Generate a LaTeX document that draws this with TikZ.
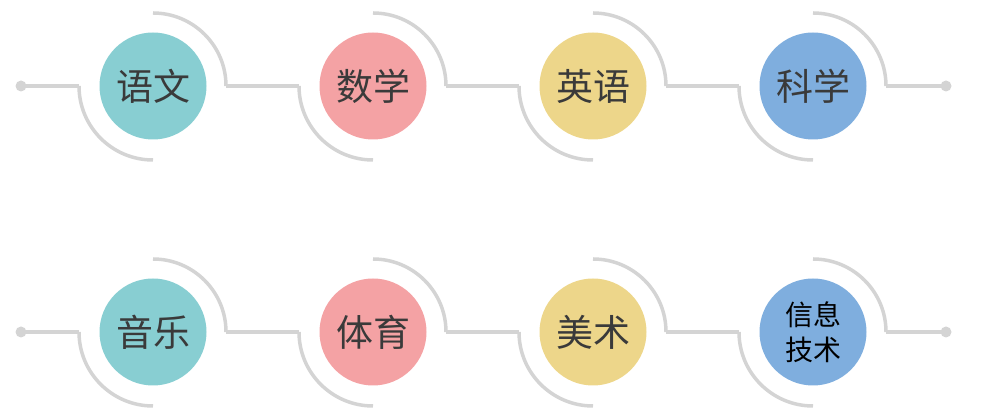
\documentclass[tikz,border=0pt]{standalone}
\usepackage{fontspec}
\newfontfamily\cjk{Noto Sans CJK SC}
\usetikzlibrary{calc}
\definecolor{linegray}{HTML}{D4D4D4}
\definecolor{cteal}{HTML}{88CED2}
\definecolor{cpink}{HTML}{F4A2A4}
\definecolor{cyellow}{HTML}{EDD68A}
\definecolor{cblue}{HTML}{7FAEDE}
\definecolor{txt}{HTML}{3A3A3A}
\begin{document}
\begin{tikzpicture}[x=1pt,y=1pt,
  ring/.style={draw=linegray, line width=3.5pt},
  subj/.style={circle, minimum size=107pt, inner sep=0pt, font=\cjk\fontsize{37}{44}\selectfont, text=txt},
  small/.style={font=\cjk\fontsize{28}{35}\selectfont, text=black, align=center}]
\useasboundingbox (0,0) rectangle (988,414);
% row 1
\node[subj, fill=cteal]   (c1) at (153,328) {语文};
\node[subj, fill=cpink]   (c2) at (373,328) {数学};
\node[subj, fill=cyellow] (c3) at (593,328) {英语};
\node[subj, fill=cblue]   (c4) at (813,328) {科学};
% row 2
\node[subj, fill=cteal]   (c5) at (153,82) {音乐};
\node[subj, fill=cpink]   (c6) at (373,82) {体育};
\node[subj, fill=cyellow] (c7) at (593,82) {美术};
\node[subj, fill=cblue, small] (c8) at (813,82) {信息\\技术};
% end dots
\coordinate (l1) at (21,328);
\coordinate (r1) at (946,328);
\coordinate (l2) at (21,82);
\coordinate (r2) at (946,82);
\foreach \d in {l1,r1,l2,r2} \fill[linegray] (\d) circle (5.5pt);
% arcs
\foreach \c in {c1,c2,c3,c4,c5,c6,c7,c8} {
  \draw[ring] ($(\c)+(0,73)$) arc[start angle=90, end angle=0, radius=73pt];
  \draw[ring] ($(\c)+(-74,0)$) arc[start angle=180, end angle=270, radius=74pt];
}
% connectors
\draw[ring] (l1) -- ($(c1)+(-74,0)$);
\draw[ring] ($(c1)+(73,0)$) -- ($(c2)+(-74,0)$);
\draw[ring] ($(c2)+(73,0)$) -- ($(c3)+(-74,0)$);
\draw[ring] ($(c3)+(73,0)$) -- ($(c4)+(-74,0)$);
\draw[ring] ($(c4)+(73,0)$) -- (r1);
\draw[ring] (l2) -- ($(c5)+(-74,0)$);
\draw[ring] ($(c5)+(73,0)$) -- ($(c6)+(-74,0)$);
\draw[ring] ($(c6)+(73,0)$) -- ($(c7)+(-74,0)$);
\draw[ring] ($(c7)+(73,0)$) -- ($(c8)+(-74,0)$);
\draw[ring] ($(c8)+(73,0)$) -- (r2);
\end{tikzpicture}
\end{document}
